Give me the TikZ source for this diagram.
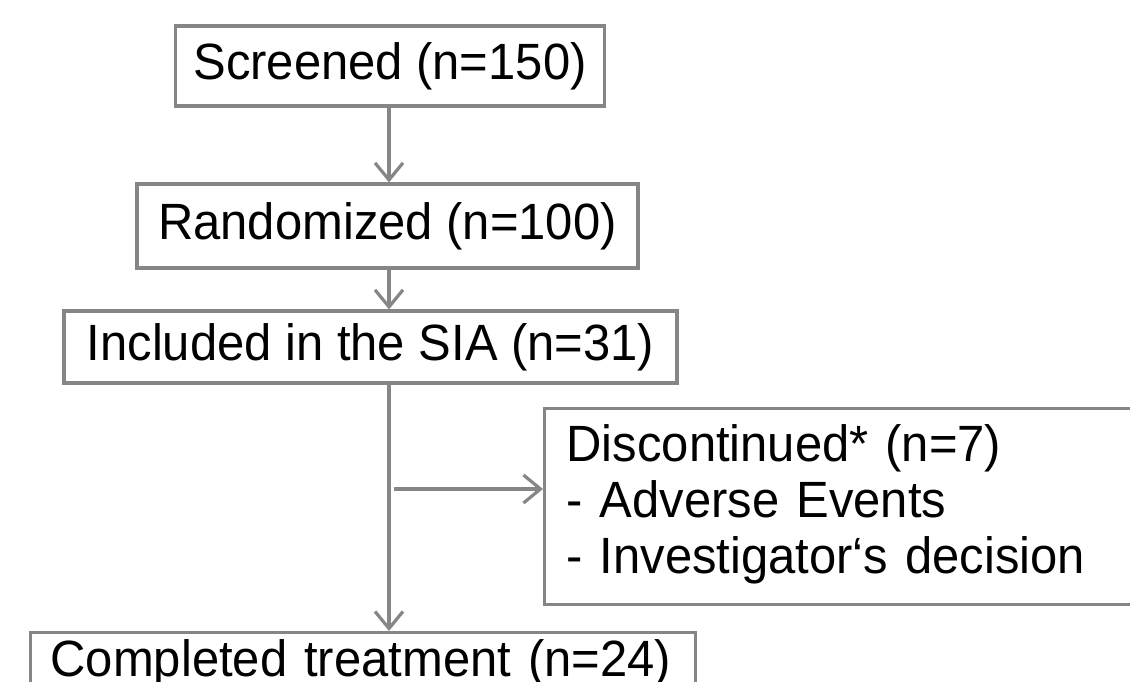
\documentclass[tikz,border=0pt]{standalone}
\usepackage{fontspec}
\setmainfont{Liberation Sans}[FakeStretch=0.96]
\usetikzlibrary{arrows.meta}
\definecolor{linegray}{HTML}{868686}
\begin{document}
\begin{tikzpicture}[x=1pt,y=-1pt,
  box/.style={draw=linegray, line width=3.2pt, rectangle, inner sep=0pt, text=black,
    font=\fontsize{51}{56}\selectfont},
  arr/.style={draw=linegray, line width=3.2pt, -{Straight Barb[length=17pt,width=28pt]}}]
\useasboundingbox (0,0) rectangle (1130,682);
\clip (0,0) rectangle (1130,682);
\coordinate (spine) at (389,0);
\node[box, minimum width=429pt, minimum height=80pt] (sc) at (390,66) {Screened (n=150)};
\node[box, minimum width=501pt, minimum height=84pt] (rd) at (387.5,226) {Randomized (n=100)};
\node[box, minimum width=613pt, minimum height=72pt] (ic) at (370.5,347) {Included in the SIA (n=31)};
\node[box, anchor=north west, minimum width=620pt, minimum height=196pt, align=left,
  text width=576pt, inner xsep=22pt] (dc) at (543,407)
  {\strut Discontinued* (n=7)\\\strut - Adverse Events\\\strut - Investigator‘s decision};
\node[box, anchor=north west, minimum width=665pt, minimum height=62pt, align=left,
  text width=625pt, inner xsep=20pt] (ct) at (29,631)
  {Completed treatment (n=24)};
\coordinate (br) at (394,489);
\draw[arr] (sc.south -| spine) -- (rd.north -| spine);
\draw[arr] (rd.south -| spine) -- (ic.north -| spine);
\draw[arr] (ic.south -| spine) -- (ct.north -| spine);
\draw[arr] (br) -- (br -| dc.west);
\end{tikzpicture}
\end{document}
